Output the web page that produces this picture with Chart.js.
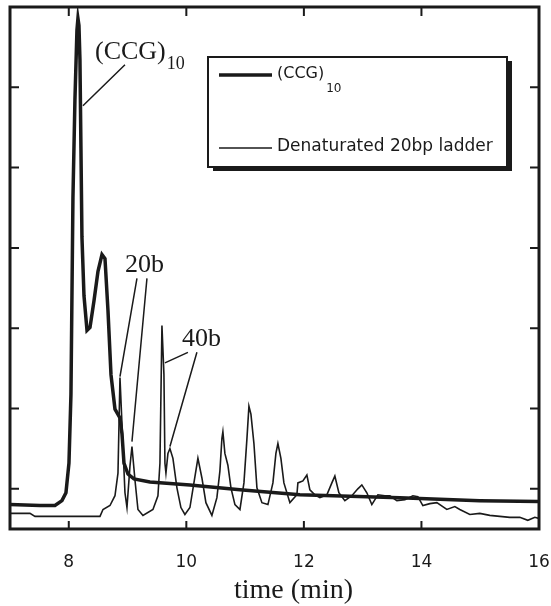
<!DOCTYPE html>
<html>
<head>
<meta charset="utf-8">
<script src="https://cdn.jsdelivr.net/npm/chart.js@4.4.1/dist/chart.umd.min.js"></script>
<style>
  html, body { margin: 0; padding: 0; background: #fff; }
  #wrap { width: 551px; height: 606px; }
</style>
</head>
<body>
<div id="wrap"><canvas id="chart"></canvas></div>
<script>
// (CCG)10 trace, time in min / signal in tick units
const ccgTime = [7.000, 7.510, 7.765, 7.884, 7.952, 8.003, 8.037, 8.054, 8.071, 8.105, 8.139, 8.156, 8.173, 8.190, 8.207, 8.224, 8.259, 8.310, 8.361, 8.429, 8.497, 8.565, 8.616, 8.667, 8.718, 8.786, 8.871, 8.905, 8.939, 9.007, 9.109, 9.381, 10.061, 10.912, 11.932, 13.633, 14.993, 15.997];
const ccgSignal = [-0.196, -0.208, -0.208, -0.147, -0.049, 0.319, 1.176, 2.402, 3.627, 4.853, 5.711, 5.858, 5.772, 5.343, 4.240, 3.137, 2.402, 1.973, 2.010, 2.341, 2.708, 2.917, 2.868, 2.218, 1.422, 0.993, 0.882, 0.686, 0.319, 0.184, 0.123, 0.086, 0.049, -0.012, -0.074, -0.110, -0.147, -0.159];

// denaturated 20bp ladder trace
const ladderTime = [7.000, 7.340, 7.425, 8.531, 8.582, 8.701, 8.786, 8.837, 8.871, 8.956, 8.990, 9.041, 9.075, 9.126, 9.177, 9.262, 9.432, 9.517, 9.551, 9.568, 9.585, 9.619, 9.636, 9.653, 9.687, 9.721, 9.772, 9.840, 9.908, 9.976, 10.061, 10.129, 10.197, 10.265, 10.333, 10.435, 10.520, 10.571, 10.605, 10.622, 10.656, 10.707, 10.759, 10.827, 10.912, 10.980, 11.031, 11.065, 11.099, 11.150, 11.201, 11.286, 11.388, 11.473, 11.524, 11.558, 11.609, 11.660, 11.762, 11.881, 11.898, 11.983, 12.051, 12.102, 12.187, 12.272, 12.391, 12.476, 12.527, 12.595, 12.697, 12.816, 12.918, 12.986, 13.071, 13.156, 13.259, 13.378, 13.463, 13.582, 13.718, 13.854, 13.939, 14.024, 14.143, 14.262, 14.432, 14.568, 14.653, 14.823, 14.993, 15.163, 15.333, 15.503, 15.673, 15.810, 15.929, 15.997];
const ladderSignal = [-0.306, -0.306, -0.343, -0.343, -0.257, -0.208, -0.086, 0.196, 1.385, -0.049, -0.233, 0.282, 0.527, 0.110, -0.257, -0.331, -0.257, -0.086, 0.319, 1.176, 2.034, 1.422, 0.319, 0.196, 0.441, 0.502, 0.380, 0.012, -0.233, -0.319, -0.233, 0.074, 0.380, 0.135, -0.172, -0.331, -0.110, 0.221, 0.625, 0.711, 0.441, 0.294, 0.012, -0.196, -0.257, 0.074, 0.625, 1.029, 0.931, 0.564, 0.012, -0.172, -0.196, 0.074, 0.441, 0.564, 0.380, 0.074, -0.172, -0.074, 0.074, 0.098, 0.172, -0.012, -0.074, -0.110, -0.074, 0.074, 0.159, -0.049, -0.147, -0.086, 0.000, 0.049, -0.049, -0.196, -0.074, -0.086, -0.086, -0.147, -0.135, -0.086, -0.098, -0.208, -0.184, -0.172, -0.257, -0.221, -0.257, -0.319, -0.306, -0.331, -0.343, -0.355, -0.355, -0.392, -0.355, -0.368];

const xTicks = [8, 10, 12, 14, 16];
const yTicks = [0, 1, 2, 3, 4, 5, 6];
const seriesNames = ['(CCG)', 'Denaturated 20bp ladder'];
const seriesSubs = ['10', ''];

// peak labels (text, subscript, time, signal) and their pointer lines
const peakLabels = ['(CCG)', '20b', '40b'];
const peakSubs = ['10', '', ''];
const peakLabelTime = [8.446, 8.956, 9.925];
const peakLabelSignal = [5.44, 2.79, 1.863];
const pointerFrom = [[8.956, 5.28], [9.16, 2.62], [9.33, 2.62], [10.027, 1.70], [10.18, 1.70]];
const pointerTo = [[8.241, 4.77], [8.871, 1.397], [9.075, 0.588], [9.636, 1.569], [9.721, 0.527]];

const INK = '#1a1a1a';

function toPoints(xs, ys) {
    return xs.map((t, i) => ({ x: t, y: ys[i] }));
}

// frame, inward ticks, peak labels, legend box, axis title
const extras = {
    id: 'extras',
    afterDatasetsDraw(chart) {
        const { ctx, chartArea: a, scales: { x, y } } = chart;
        ctx.save();
        ctx.strokeStyle = INK;
        ctx.fillStyle = INK;

        // pointer lines
        ctx.lineWidth = 1.5;
        ctx.beginPath();
        pointerFrom.forEach((p, i) => {
            ctx.moveTo(x.getPixelForValue(p[0]), y.getPixelForValue(p[1]));
            ctx.lineTo(x.getPixelForValue(pointerTo[i][0]), y.getPixelForValue(pointerTo[i][1]));
        });
        ctx.stroke();

        // peak labels
        ctx.textBaseline = 'middle';
        ctx.textAlign = 'left';
        peakLabels.forEach((txt, i) => {
            const px = x.getPixelForValue(peakLabelTime[i]);
            const py = y.getPixelForValue(peakLabelSignal[i]);
            ctx.font = '26px "Liberation Serif"';
            ctx.fillText(txt, px, py);
            if (peakSubs[i]) {
                const w = ctx.measureText(txt).width;
                ctx.font = '18px "Liberation Serif"';
                ctx.fillText(peakSubs[i], px + w + 1, py + 12);
            }
        });

        // inward ticks
        ctx.lineWidth = 2;
        ctx.beginPath();
        xTicks.forEach(v => {
            if (v >= x.max) return;
            const px = x.getPixelForValue(v);
            ctx.moveTo(px, a.top); ctx.lineTo(px, a.top + 9);
            ctx.moveTo(px, a.bottom); ctx.lineTo(px, a.bottom - 8);
        });
        yTicks.forEach(v => {
            if (v >= y.max) return;
            const py = y.getPixelForValue(v);
            ctx.moveTo(a.left, py); ctx.lineTo(a.left + 9, py);
            ctx.moveTo(a.right, py); ctx.lineTo(a.right - 9, py);
        });
        ctx.stroke();

        // frame
        ctx.lineWidth = 3;
        ctx.strokeRect(a.left, a.top, a.right - a.left, a.bottom - a.top);

        // legend box with drop shadow
        const bx = 208, by = 57, bw = 299, bh = 110;
        ctx.fillRect(bx + 5, by + 4, bw, bh);
        ctx.fillStyle = '#fff';
        ctx.fillRect(bx, by, bw, bh);
        ctx.lineWidth = 2;
        ctx.strokeRect(bx, by, bw, bh);
        ctx.fillStyle = INK;
        const rows = [75, 148];
        const sizes = [16, 17];
        chart.data.datasets.forEach((ds, i) => {
            ctx.lineWidth = ds.borderWidth;
            ctx.beginPath();
            ctx.moveTo(bx + 11, rows[i]);
            ctx.lineTo(bx + 64, rows[i]);
            ctx.stroke();
            ctx.font = sizes[i] + 'px "DejaVu Sans"';
            ctx.fillText(ds.label, bx + 69, rows[i] - 1);
            if (seriesSubs[i]) {
                const w = ctx.measureText(ds.label).width;
                ctx.font = '12px "DejaVu Sans"';
                ctx.fillText(seriesSubs[i], bx + 69 + w + 2, rows[i] + 14);
            }
        });

        // axis title
        ctx.font = '28px "Liberation Serif"';
        ctx.textAlign = 'center';
        ctx.textBaseline = 'alphabetic';
        ctx.fillText('time (min)', (a.left + a.right) / 2 + 19, 598);
        ctx.restore();
    }
};

new Chart(document.getElementById('chart'), {
    type: 'line',
    data: {
        datasets: [
            {
                label: seriesNames[0],
                data: toPoints(ccgTime, ccgSignal),
                borderColor: INK,
                borderWidth: 3.5,
                pointRadius: 0,
                tension: 0,
                fill: false
            },
            {
                label: seriesNames[1],
                data: toPoints(ladderTime, ladderSignal),
                borderColor: INK,
                borderWidth: 1.6,
                pointRadius: 0,
                tension: 0,
                fill: false
            }
        ]
    },
    options: {
        responsive: true,
        maintainAspectRatio: false,
        animation: false,
        events: [],
        layout: { padding: { left: 10, right: 12, top: 7, bottom: 17 } },
        plugins: {
            legend: { display: false },
            tooltip: { enabled: false }
        },
        scales: {
            x: {
                type: 'linear',
                min: 7,
                max: 16,
                afterBuildTicks: scale => { scale.ticks = xTicks.map(v => ({ value: v })); },
                grid: { display: false },
                border: { display: false },
                ticks: {
                    color: INK,
                    padding: 0,
                    maxRotation: 0,
                    font: { family: 'DejaVu Sans', size: 17, lineHeight: 3.06 }
                }
            },
            y: {
                type: 'linear',
                min: -0.5,
                max: 6,
                display: false
            }
        }
    },
    plugins: [extras]
});
</script>
</body>
</html>
